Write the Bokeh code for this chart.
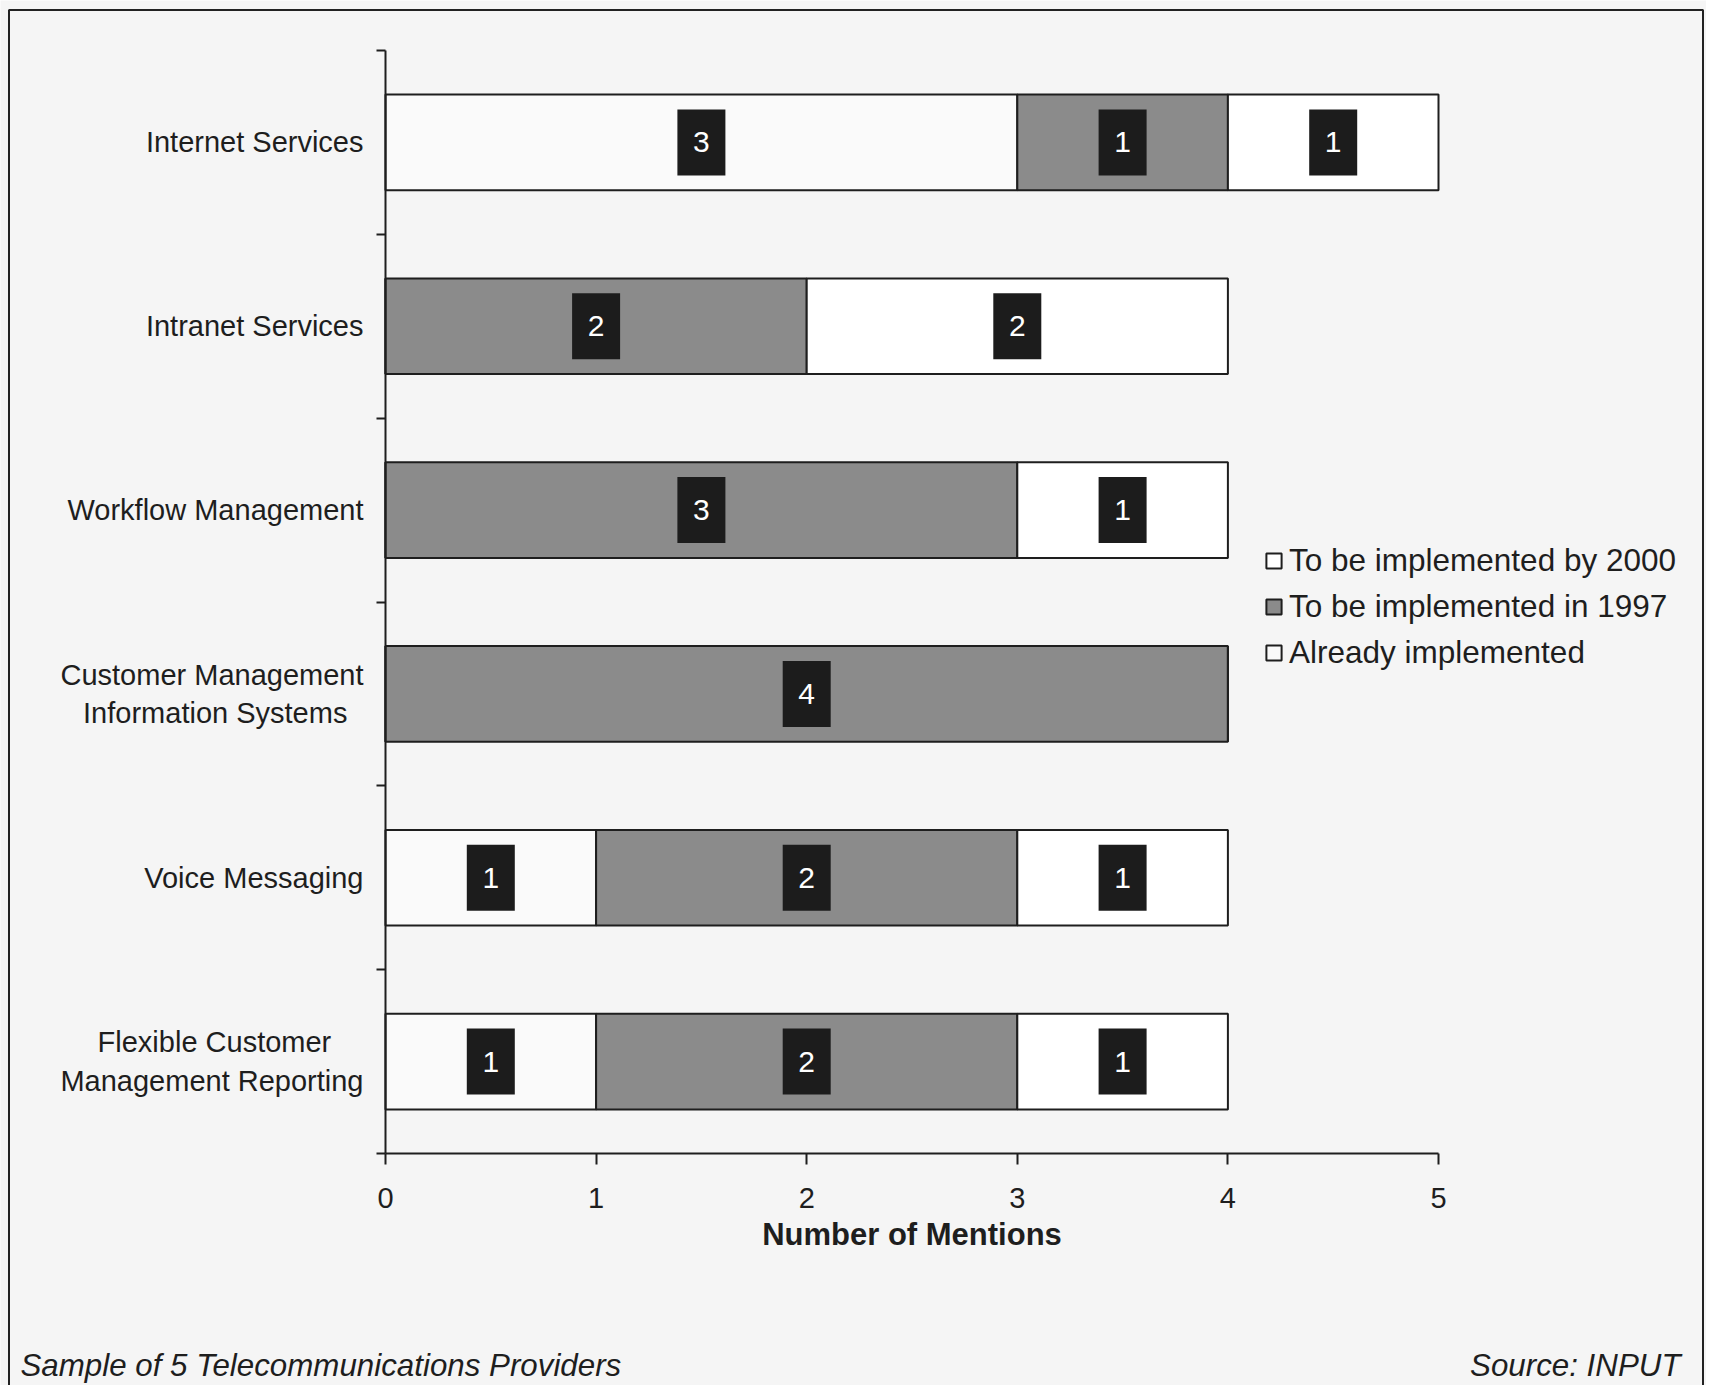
from bokeh.plotting import figure
from bokeh.models import (ColumnDataSource, Range1d, FixedTicker, Legend, LegendItem, Label,
                          BoxAnnotation)
from bokeh.core.properties import value
from bokeh.embed import file_html
from bokeh.resources import INLINE

# ---- data ----
categories = ["Internet Services", "Intranet Services", "Workflow Management",
              "Customer Management\nInformation Systems", "Voice Messaging",
              "Flexible Customer\nManagement Reporting"]
already = [3, 0, 0, 0, 1, 1]
in1997 = [1, 2, 3, 4, 2, 2]
by2000 = [1, 2, 1, 0, 1, 1]
series_names = ["Already implemented", "To be implemented in 1997", "To be implemented by 2000"]
x_ticks = [0, 1, 2, 3, 4, 5]
x_label = "Number of Mentions"
note_left = "Sample of 5 Telecommunications Providers"
note_right = "Source: INPUT"

FONT = "Liberation Sans"
INK = "#1e1e1e"
BG = "#f5f5f5"
fills = ["#fafafa", "#8b8b8b", "#ffffff"]

# ---- geometry (canvas pixels) ----
W, H = 1706, 1385
AX_LEFT, AX_RIGHT = 385.0, 1438.0      # canvas x of value 0 and value 5
AX_TOP, AX_BOTTOM = 50.0, 1153.0       # canvas y of boundary 0 and boundary 6
xs = (AX_RIGHT - AX_LEFT) / 5.0
ys = (AX_BOTTOM - AX_TOP) / 6.0
def cx(px):
    return (px - AX_LEFT) / xs
def cy(py):
    return (py - AX_TOP) / ys

# centre the lines of two-line labels (axis labels are right-aligned)
def centre_lines(label, pad):
    lines = label.split("\n")
    if len(lines) == 1:
        return label
    return "\n".join(l + "\u00a0" * pad.get(l, 0) for l in lines)
pads = {"Information Systems": 2, "Flexible Customer": 4}

n = len(categories)
ypos = [i + 0.5 for i in range(n)]
source = ColumnDataSource(dict(y=ypos, already=already, in1997=in1997, by2000=by2000))

p = figure(width=W, height=H, output_backend="svg", toolbar_location=None,
           x_range=Range1d(cx(0), cx(W)), y_range=Range1d(cy(H), cy(0)),
           min_border_left=0, min_border_right=0, min_border_top=0, min_border_bottom=0,
           background_fill_color=BG, border_fill_color=BG)
p.outline_line_color = None
p.grid.visible = False

renderers = p.hbar_stack(["already", "in1997", "by2000"], y="y", height=0.52, source=source,
                         fill_color=fills, line_color=INK, line_width=2)

# value labels
lx, ly, lt = [], [], []
for i in range(n):
    cum = 0
    for v in (already[i], in1997[i], by2000[i]):
        if v > 0:
            lx.append(cum + v / 2)
            ly.append(ypos[i])
            lt.append(str(v))
        cum += v
lsrc = ColumnDataSource(dict(x=lx, y=ly, t=lt))
p.rect(x="x", y="y", width=48, height=66, width_units="screen", height_units="screen",
       source=lsrc, fill_color="#1c1c1c", line_color=None)
p.text(x="x", y="y", text="t", source=lsrc, text_color="white", text_align="center",
       text_baseline="middle", text_font=value(FONT), text_font_size="30px")

# x axis
xa = p.xaxis[0]
xa.fixed_location = n
xa.bounds = (0, 5)
xa.ticker = FixedTicker(ticks=x_ticks)
xa.axis_label = x_label
xa.axis_label_text_font = FONT
xa.axis_label_text_font_size = "31px"
xa.axis_label_text_font_style = "bold"
xa.axis_label_text_color = INK
xa.axis_label_standoff = 6
xa.major_label_text_font = FONT
xa.major_label_text_font_size = "29px"
xa.major_label_text_color = INK
xa.major_label_standoff = 23
xa.axis_line_color = INK
xa.axis_line_width = 2
xa.major_tick_line_color = INK
xa.major_tick_line_width = 2
xa.major_tick_out = 11
xa.major_tick_in = 0
xa.minor_tick_line_color = None

# y axis
ya = p.yaxis[0]
ya.fixed_location = 0
ya.bounds = (0, n)
ya.ticker = FixedTicker(ticks=ypos, minor_ticks=list(range(n + 1)))
ya.major_label_overrides = {yv: centre_lines(c, pads) for yv, c in zip(ypos, categories)}
ya.major_label_text_font = FONT
ya.major_label_text_font_size = "29px"
ya.major_label_text_color = INK
ya.major_label_standoff = 13
ya.major_tick_line_color = None
ya.major_tick_out = 0
ya.major_tick_in = 0
ya.minor_tick_line_color = INK
ya.minor_tick_line_width = 2
ya.minor_tick_out = 9
ya.minor_tick_in = 0
ya.axis_line_color = INK
ya.axis_line_width = 2

# legend
items = [LegendItem(label=series_names[2], renderers=[renderers[2]]),
         LegendItem(label=series_names[1], renderers=[renderers[1]]),
         LegendItem(label=series_names[0], renderers=[renderers[0]])]
legend = Legend(items=items, location=(1264, H - 675), orientation="vertical",
                glyph_width=19, glyph_height=19, label_height=46, spacing=0,
                padding=0, margin=0, label_standoff=6,
                label_text_font=FONT, label_text_font_size="31.5px", label_text_color=INK,
                border_line_color=None, background_fill_alpha=0)
p.add_layout(legend, "center")

# footer notes
p.add_layout(Label(x=20, y=H - 1365, x_units="screen", y_units="screen", text=note_left,
                   text_font=FONT, text_font_size="31.3px", text_font_style="italic",
                   text_color=INK, text_baseline="middle", text_align="left"))
p.add_layout(Label(x=1680, y=H - 1365, x_units="screen", y_units="screen", text=note_right,
                   text_font=FONT, text_font_size="31.3px", text_font_style="italic",
                   text_color=INK, text_baseline="middle", text_align="right"))

# outer frame (open at the bottom)
p.add_layout(BoxAnnotation(left=cx(8.5), right=cx(1702.5), top=cy(9.5), bottom=cy(H + 40),
                           fill_color=None, fill_alpha=0, line_color="#222222",
                           line_alpha=1.0, line_width=2))

open("out.html", "w").write(file_html(p, INLINE))
